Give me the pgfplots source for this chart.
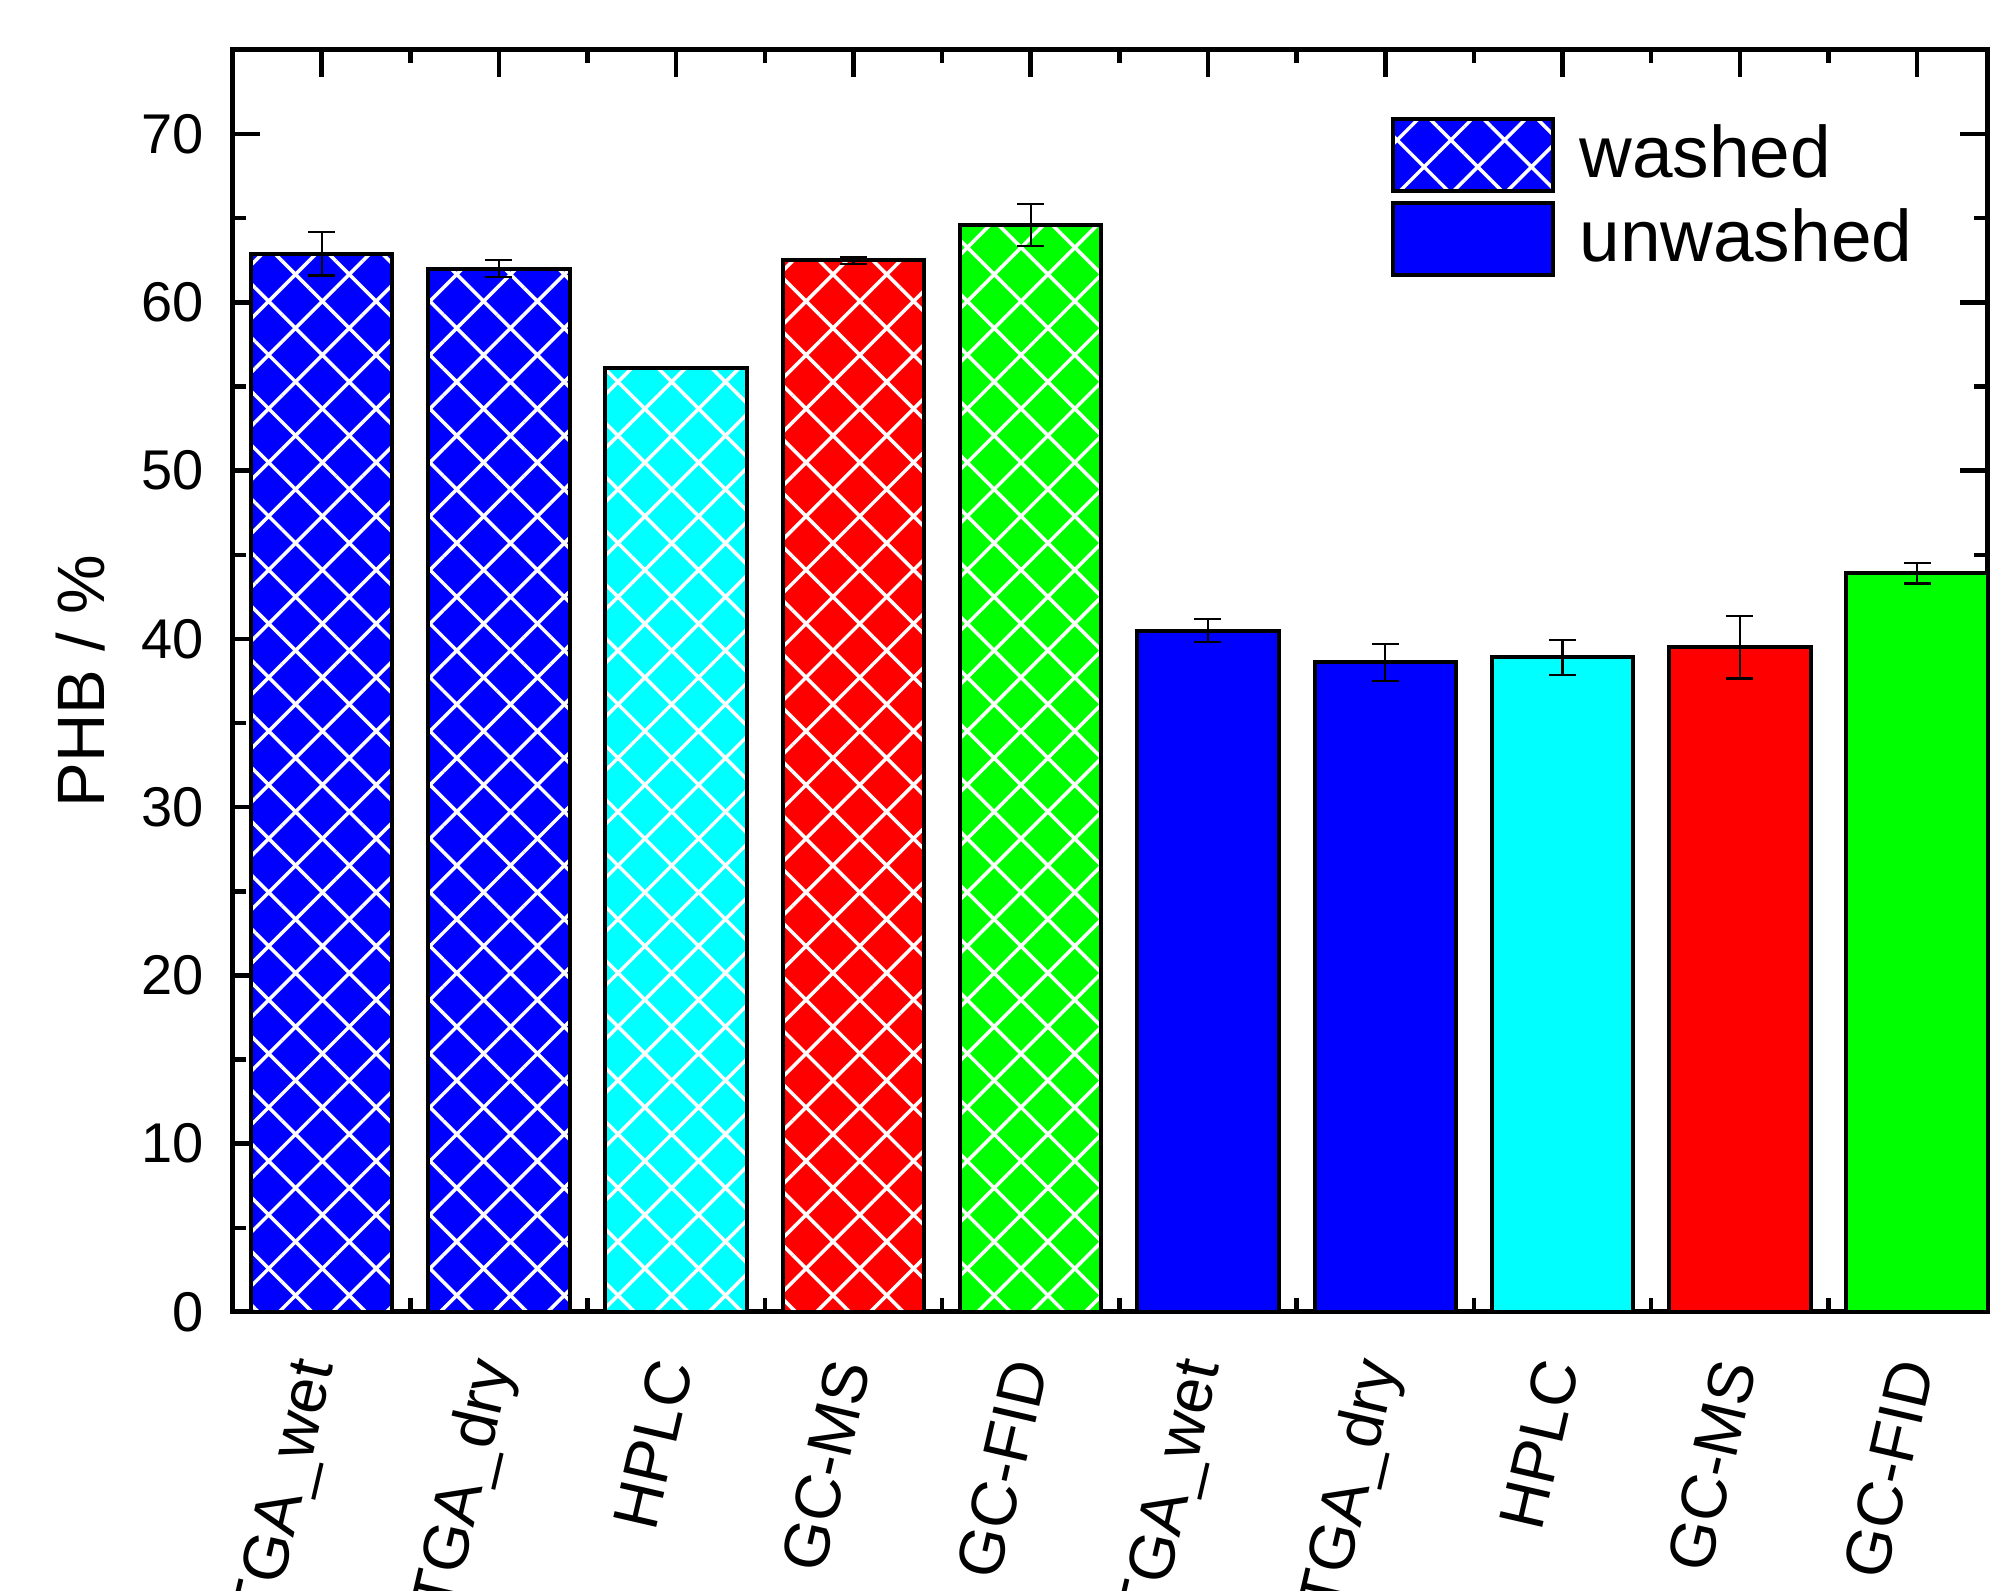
\documentclass[border=0pt]{standalone}
\usepackage{fontspec}
\setmainfont{Liberation Sans}
\usepackage{pgfplots}
\pgfplotsset{compat=1.18}
\usetikzlibrary{patterns.meta}
\definecolor{cBlue}{rgb}{0,0,1}
\definecolor{cCyan}{rgb}{0,1,1}
\definecolor{cRed}{rgb}{1,0,0}
\definecolor{cGreen}{rgb}{0,1,0}
\tikzset{
  washed/.style={preaction={fill=#1}, pattern={Hatch[angle=45,distance=7.6pt,line width=0.7pt]}, pattern color=white, draw=black, line width=0.8pt},
  unwashed/.style={fill=#1, draw=black, line width=0.8pt},
}
\begin{document}
\begin{tikzpicture}
\begin{axis}[
  at={(0,0)}, anchor=south west,
  scale only axis, width=351pt, height=252.4pt,
  xmin=-0.5, xmax=9.4, ymin=0, ymax=75,
  ybar, bar width=28.3pt, bar shift=0pt,
  axis line style={line width=1pt},
  tick style={line width=0.9pt, black},
  major tick length=5.5pt, minor tick length=2.7pt,
  tick align=inside,
  xtick={0,1,2,3,4,5,6,7,8,9},
  minor xtick={0.5,1.5,2.5,3.5,4.5,5.5,6.5,7.5,8.5},
  xticklabels={TGA\_wet,TGA\_dry,HPLC,GC-MS,GC-FID,TGA\_wet,TGA\_dry,HPLC,GC-MS,GC-FID},
  xticklabel style={rotate=77, anchor=east, font=\fontsize{12.8}{12.8}\selectfont, xshift=-6.3pt, yshift=-1.5pt},
  ytick={0,10,20,30,40,50,60,70},
  minor ytick={5,15,25,35,45,55,65},
  yticklabel style={font=\fontsize{11.2}{11.2}\selectfont, xshift=-2.3pt},
  /pgf/number format/assume math mode=true,
  ylabel={PHB / \%},
  every axis y label/.style={at={(axis description cs:-0.087,0.5)}, rotate=90, anchor=center, font=\fontsize{13.4}{13.4}\selectfont},
  error bars/y dir=both, error bars/y explicit,
  error bars/error mark options={rotate=90, mark size=2.7pt, line width=0.45pt, black},
  error bars/error bar style={line width=0.45pt, black},
  legend style={at={(0.659,0.948)}, anchor=north west, draw=none, fill=none, inner sep=0pt,
    row sep=1.6pt, nodes={inner sep=0pt, anchor=west, font=\fontsize{14.6}{14.6}\selectfont}},
  legend cell align=left,
  legend image code/.code={\draw[#1] (0pt,-7.2pt) rectangle (32pt,7.2pt);},
]
% washed
\addplot[washed=cBlue] coordinates {(0,62.9) +- (0,1.3)};
\addlegendentry{\hspace{5pt}washed}
% unwashed
\addplot[unwashed=cBlue] coordinates {(5,40.5) +- (0,0.7)};
\addlegendentry{\hspace{5pt}unwashed}
\addplot[washed=cBlue, forget plot] coordinates {(1,62.0) +- (0,0.5)};
\addplot[washed=cCyan, forget plot] coordinates {(2,56.1) +- (0,0.05)};
\addplot[washed=cRed, forget plot] coordinates {(3,62.5) +- (0,0.2)};
\addplot[washed=cGreen, forget plot] coordinates {(4,64.6) +- (0,1.25)};
\addplot[unwashed=cBlue, forget plot] coordinates {(6,38.6) +- (0,1.1)};
\addplot[unwashed=cCyan, forget plot] coordinates {(7,38.9) +- (0,1.05)};
\addplot[unwashed=cRed, forget plot] coordinates {(8,39.5) +- (0,1.85)};
\addplot[unwashed=cGreen, forget plot] coordinates {(9,43.9) +- (0,0.6)};
\end{axis}
\pgfresetboundingbox
\path[use as bounding box] (-46.6pt,-55.8pt) rectangle (353.2pt,262.4pt);
\end{tikzpicture}
\end{document}
